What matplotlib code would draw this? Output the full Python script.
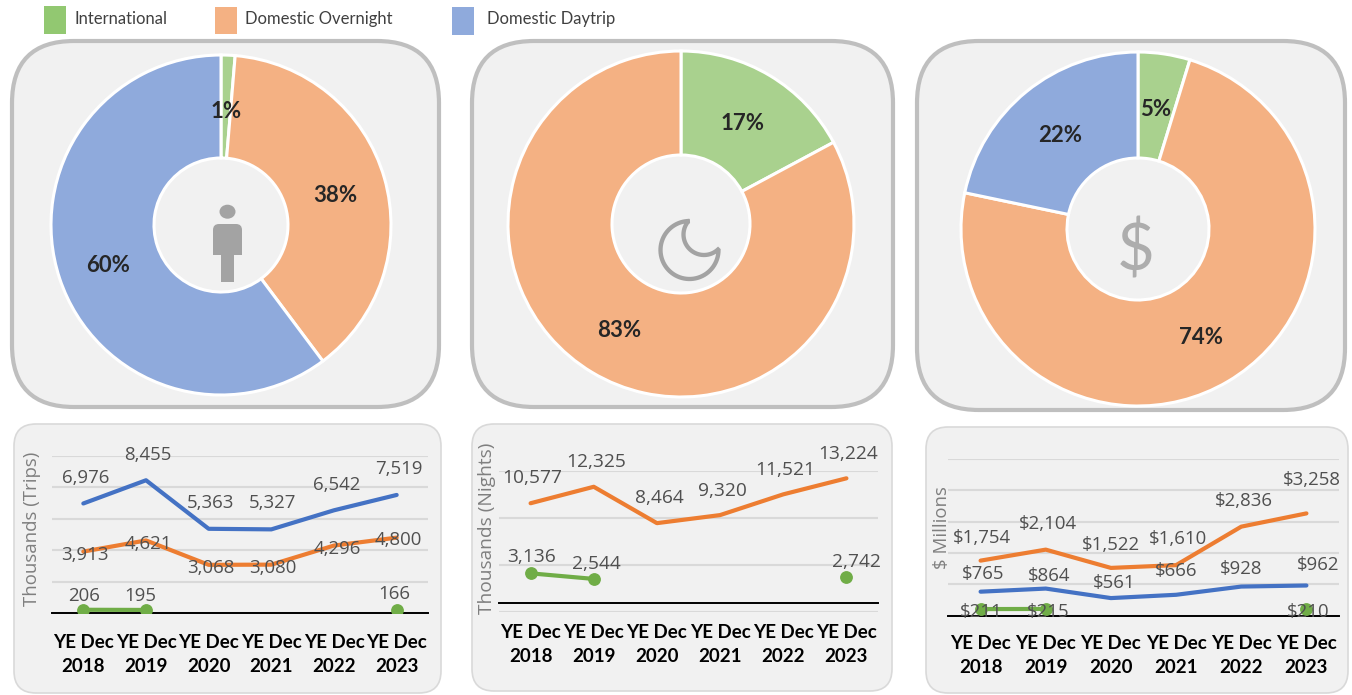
import numpy as np
import matplotlib
matplotlib.use('agg')
import matplotlib.pyplot as plt
from matplotlib.patches import FancyBboxPatch, Rectangle, Ellipse, Polygon

W, H = 1352, 695

years = ["YE Dec\n2018", "YE Dec\n2019", "YE Dec\n2020", "YE Dec\n2021", "YE Dec\n2022", "YE Dec\n2023"]

trips_intl = [206, 195, None, None, None, 166]
trips_over = [3913, 4621, 3068, 3080, 4296, 4800]
trips_day = [6976, 8455, 5363, 5327, 6542, 7519]

nights_intl = [3136, 2544, None, None, None, 2742]
nights_over = [10577, 12325, 8464, 9320, 11521, 13224]

spend_intl = [211, 215, None, None, None, 210]
spend_over = [1754, 2104, 1522, 1610, 2836, 3258]
spend_day = [765, 864, 561, 666, 928, 962]

trips_share = [166, 4800, 7519]
nights_share = [2742, 13224]
spend_share = [210, 3258, 962]

GREEN = '#a9d18e'
ORANGE = '#f4b183'
BLUE = '#8faadc'
L_GREEN = '#70ad47'
L_ORANGE = '#ed7d31'
L_BLUE = '#4472c4'
ICON = '#a3a3a3'
TEXT = '#505050'
DARK = '#262626'
PANEL = '#f1f1f1'


def px_axes(fig, x0, y0, x1, y1):
    return fig.add_axes([x0 / W, 1 - y1 / H, (x1 - x0) / W, (y1 - y0) / H])


def panel(ax, x0, y0, x1, y1, edge, lw, r):
    ax.add_patch(FancyBboxPatch((x0 + r, y0 + r), x1 - x0 - 2 * r, y1 - y0 - 2 * r,
                                boxstyle="round,pad=%d,rounding_size=%d" % (r, r),
                                fc=PANEL, ec=edge, lw=lw))


def donut(fig, cx, cy, r, hole, values, colors, labels):
    ax = px_axes(fig, cx - r - 4, cy - r - 4, cx + r + 4, cy + r + 4)
    ax.pie(values, colors=colors, startangle=90, counterclock=False, radius=r,
           wedgeprops=dict(width=r - hole, edgecolor='white', linewidth=2.2))
    ax.set_xlim(-r - 4, r + 4)
    ax.set_ylim(-r - 4, r + 4)
    ax.axis('off')
    ax.patch.set_alpha(0)
    for s, x, y in labels:
        ax.text(x - cx, cy - y, s, ha='center', va='center_baseline', family='Lato',
                weight='bold', fontsize=16, color=DARK)


def line_chart(fig, box, ymin, ymax, step, series, ylabel, ylabel_x, ylabel_y, pad, size=13.4):
    x0, y0, x1, y1 = box
    ax = px_axes(fig, x0, y0, x1, y1)
    ax.patch.set_alpha(0)
    xs = np.arange(len(years))
    for vals, color, fmt, offs in series:
        ys = [np.nan if v is None else v for v in vals]
        ax.plot(xs, ys, color=color, lw=3, solid_capstyle='round', zorder=3)
        if color == L_GREEN:
            ax.plot(xs, ys, 'o', color=color, ms=8.2, zorder=3)
        for x, v, off in zip(xs, vals, offs):
            if v is not None:
                ax.annotate(fmt.format(v), (x, v), xytext=off, textcoords='offset pixels',
                            ha='center', va='center_baseline', family='Open Sans',
                            fontsize=size, color=TEXT, zorder=4)
    ax.set_xlim(-0.5, len(years) - 0.5)
    ax.set_ylim(ymin, ymax)
    ax.set_yticks(np.arange(ymin, ymax + 1, step))
    ax.yaxis.grid(True, color='#d9d9d9', lw=1.5)
    ax.set_axisbelow(True)
    ax.tick_params(length=0, labelleft=False)
    ax.set_xticks(xs)
    ax.set_xticklabels(years, family='Lato', weight='bold', fontsize=13.5, color='black',
                       linespacing=1.49)
    ax.tick_params(axis='x', pad=pad)
    for s in ax.spines.values():
        s.set_visible(False)
    ax.axhline(0, color='black', lw=1.4, clip_on=False, zorder=2)
    fig.text(ylabel_x / W, 1 - ylabel_y / H, ylabel, rotation=90, ha='center', va='center',
             family='Open Sans', fontsize=size, color='#7f7f7f')


fig = plt.figure(figsize=(W / 100, H / 100), dpi=100)

bg = fig.add_axes([0, 0, 1, 1])
bg.set_xlim(0, W)
bg.set_ylim(H, 0)
bg.axis('off')

panel(bg, 12, 41, 439, 407, '#bfbfbf', 3, 62)
panel(bg, 472, 41, 893, 407, '#bfbfbf', 3, 62)
panel(bg, 917, 41, 1345, 410, '#bfbfbf', 3, 62)
panel(bg, 14, 424, 441, 693, '#d9d9d9', 1.2, 22)
panel(bg, 472, 424, 892, 691, '#d9d9d9', 1.2, 22)
panel(bg, 926, 427, 1348, 693, '#d9d9d9', 1.2, 22)

# legend
for x, w, y, h, c, s, tx in [(44, 22, 6, 28, '#92c871', "International", 75),
                             (215, 22, 7, 27, ORANGE, "Domestic Overnight", 245),
                             (452, 22, 7, 28, BLUE, "Domestic Daytrip", 487)]:
    bg.add_patch(Rectangle((x, y), w, h, fc=c, ec='none'))
    bg.text(tx, 19, s, va='center', family='Lato', fontsize=12, color='#404040')

donut(fig, 221, 225, 170, 67, trips_share, [GREEN, ORANGE, BLUE],
      [("1%", 226, 109), ("38%", 335, 193), ("60%", 108, 264)])
donut(fig, 681, 224, 173, 69, nights_share, [GREEN, ORANGE],
      [("17%", 743, 122), ("83%", 619, 329)])
donut(fig, 1138, 229, 177, 71, spend_share, [GREEN, ORANGE, BLUE],
      [("5%", 1156, 108), ("74%", 1201, 336), ("22%", 1060, 133)])

# icons sit on top of the donut holes
top = fig.add_axes([0, 0, 1, 1])
top.set_xlim(0, W)
top.set_ylim(H, 0)
top.axis('off')
top.patch.set_alpha(0)

top.add_patch(Ellipse((227.5, 211.7), 16, 14, fc=ICON, ec='none'))
top.add_patch(FancyBboxPatch((216, 227), 23, 20, boxstyle="round,pad=3,rounding_size=6", fc=ICON, ec='none'))
top.add_patch(Rectangle((213, 240), 29, 15, fc=ICON, ec='none'))
top.add_patch(Rectangle((221, 254), 13, 28, fc=ICON, ec='none'))

t1 = np.radians(np.linspace(-90, -360, 60))
t2 = np.radians(np.linspace(47, 221, 40))
moon_x = np.r_[689.5 + 29 * np.cos(t1), 704 + 20.5 * np.cos(t2)]
moon_y = np.r_[250 + 29 * np.sin(t1), 234.5 + 20.5 * np.sin(t2)]
top.add_patch(Polygon(np.c_[moon_x, moon_y], closed=True, fill=False, ec=ICON, lw=3.1, joinstyle='miter'))

top.text(1136, 251, "$", ha='center', va='center', family='Lato',
         fontsize=47, color='#adadad')

line_chart(fig, (52, 456, 428, 613), 0, 10000, 2000,
           [(trips_intl, L_GREEN, "{:,}", [(1, 16), (-6, 16), (0, 0), (0, 0), (0, 0), (-2, 18)]),
            (trips_over, L_ORANGE, "{:,}", [(2, -1.5), (2, -1.6), (2, -1), (1, -1), (3, -1.5), (2, 0)]),
            (trips_day, L_BLUE, "{:,}", [(2, 27.5), (2, 27), (2, 28), (1, 28), (3, 27), (2, 28)])],
           "Thousands (Trips)", 32, 529, 15)
line_chart(fig, (499, 471, 878, 612.3), -1000, 14000, 5000,
           [(nights_intl, L_GREEN, "{:,}", [(1, 18), (3, 17), (0, 0), (0, 0), (0, 0), (10, 17.5)]),
            (nights_over, L_ORANGE, "{:,}", [(2, 27), (2, 27), (2, 27), (2, 26.4), (2, 26.6), (2, 26.6)])],
           "Thousands (Nights)", 487, 528.5, 8.3, 13.8)
line_chart(fig, (948, 458.7, 1339, 615.7), 0, 5000, 1000,
           [(spend_intl, L_GREEN, "${:,}", [(1, -1), (2, -1), (0, 0), (0, 0), (0, 0), (2, -1)]),
            (spend_over, L_ORANGE, "${:,}", [(1, 25), (2, 28), (0, 25), (2, 28.4), (3, 28), (5, 35.4)]),
            (spend_day, L_BLUE, "${:,}", [(3, 20), (3, 14.3), (3, 17.3), (0, 25.5), (0, 20), (12, 22)])],
           "$ Millions", 942, 528, 14)

fig.savefig('out.png', dpi=100)
